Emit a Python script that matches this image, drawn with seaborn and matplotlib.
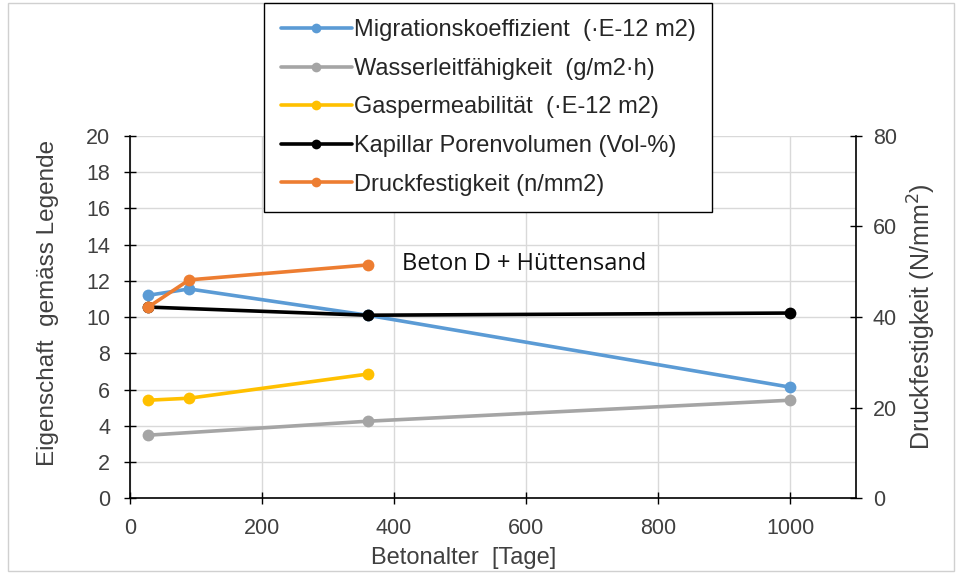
import matplotlib
matplotlib.use("Agg")
import matplotlib.pyplot as plt
import seaborn as sns
import pandas as pd
from matplotlib.patches import Rectangle
from matplotlib.lines import Line2D

# Data
tage_mig = [28, 90, 360, 1000]
migration = [11.2, 11.55, 10.1, 6.13]
tage_wass = [28, 360, 1000]
wasser = [3.48, 4.25, 5.41]
tage_gas = [28, 90, 360]
gas = [5.41, 5.52, 6.85]
tage_kap = [28, 360, 1000]
kapillar = [10.55, 10.1, 10.22]
tage_druck = [28, 90, 360]
druck = [42.2, 48.2, 51.5]

labels = ["Migrationskoeffizient  (\u00b7E-12 m2)",
          "Wasserleitf\u00e4higkeit  (g/m2\u00b7h)",
          "Gaspermeabilit\u00e4t  (\u00b7E-12 m2)",
          "Kapillar Porenvolumen (Vol-%)",
          "Druckfestigkeit (n/mm2)"]
colors = ["#5B9BD5", "#A5A5A5", "#FFC000", "#000000", "#ED7D31"]

sns.set_theme(style="white")
plt.rcParams['font.family'] = ['Liberation Sans', 'DejaVu Sans']

fig = plt.figure(figsize=(9.61, 5.78), dpi=100)
fig.patches.append(Rectangle((0.008, 0.012), 0.985, 0.982, transform=fig.transFigure,
                             fill=False, edgecolor="#D0D0D0", linewidth=1.0))
ax = fig.add_axes([0.135, 0.138, 0.756, 0.627])
ax2 = ax.twinx()

lw = 2.6
ms = 8.5
series = [(tage_mig, migration), (tage_wass, wasser), (tage_gas, gas), (tage_kap, kapillar)]
for (xs, ys), c in zip(series, colors[:4]):
    df = pd.DataFrame({"x": xs, "y": ys})
    sns.lineplot(data=df, x="x", y="y", ax=ax, color=c, linewidth=lw, marker="o",
                 markersize=ms, markeredgewidth=0, zorder=3)
dfd = pd.DataFrame({"x": tage_druck, "y": druck})
sns.lineplot(data=dfd, x="x", y="y", ax=ax2, color=colors[4], linewidth=lw, marker="o",
             markersize=ms, markeredgewidth=0)

ax.set_xlim(0, 1100)
ax.set_ylim(0, 20)
ax2.set_ylim(0, 80)
ax.set_xticks(range(0, 1001, 200))
ax.set_yticks(range(0, 21, 2))
ax2.set_yticks(range(0, 81, 20))

ax.grid(True, color="#D9D9D9", linewidth=1.0)
ax.set_axisbelow(True)
ax2.grid(False)

for a in (ax, ax2):
    for s in a.spines.values():
        s.set_visible(False)
ax.spines["left"].set_visible(True)
ax.spines["bottom"].set_visible(True)
ax2.spines["right"].set_visible(True)
for s in (ax.spines["left"], ax.spines["bottom"], ax2.spines["right"]):
    s.set_color("black")
    s.set_linewidth(1.2)

ax.tick_params(axis="y", direction="inout", length=8, width=1.0, colors="black",
               labelsize=15.5, labelcolor="#404040", left=True, pad=10)
ax.tick_params(axis="x", direction="inout", length=8, width=1.0, colors="black",
               labelsize=15.5, labelcolor="#404040", bottom=True, pad=10)
ax2.tick_params(axis="y", direction="inout", length=8, width=1.0, colors="black",
                labelsize=15.5, labelcolor="#404040", right=True, pad=8)

ax.set_xlabel("Betonalter  [Tage]", fontsize=17, color="#404040", labelpad=4)
ax.xaxis.set_label_coords(0.459, -0.135)
ax.set_ylabel("Eigenschaft  gem\u00e4ss Legende", fontsize=17.5, color="#404040")
ax.yaxis.set_label_coords(-0.098, 0.54)
ax2.set_ylabel("Druckfestigkeit (N/mm$^2$)", fontsize=18, color="#404040", labelpad=6)

ax.text(412, 12.9, "Beton D + H\u00fcttensand", fontsize=17, family=["Open Sans", "DejaVu Sans"],
        color="#111111", va="center", ha="left")

handles = [Line2D([0], [0], color=c, linewidth=lw, marker="o", markersize=7, markeredgewidth=0)
           for c in colors]
leg = fig.legend(handles, labels, loc="upper left", bbox_to_anchor=(0.275, 0.995),
                 bbox_transform=fig.transFigure, frameon=True, fontsize=17,
                 handlelength=3.0, handletextpad=0.1, labelspacing=0.7,
                 borderpad=0.7, borderaxespad=0, fancybox=False)
leg.get_frame().set_edgecolor("black")
leg.get_frame().set_linewidth(1.0)
leg.get_frame().set_facecolor("white")
leg.get_frame().set_alpha(1.0)
for t in leg.get_texts():
    t.set_color("#262626")

fig.savefig("out.png", dpi=100)
